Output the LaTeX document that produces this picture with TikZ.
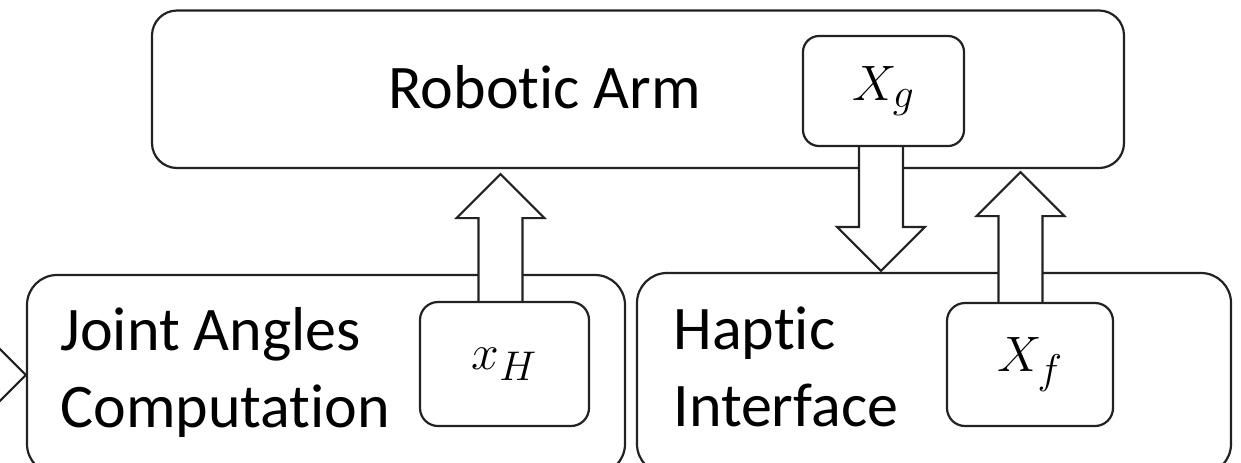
\documentclass[tikz,border=0pt]{standalone}
\usepackage{fontspec}
\setmainfont{Carlito}[Ligatures=NoCommon]
\usetikzlibrary{calc}
\pgfdeclarelayer{boxes}
\pgfdeclarelayer{links}
\pgfsetlayers{boxes,links,main}

\definecolor{ink}{HTML}{222222}

% vertical block arrow from #1 (shaft base) to #2 (tip)
\newcommand\vblockarrow[2]{%
  \path[blockarrow] let \p1=(#1), \p2=(#2),
      \n1={ifthenelse(\y2>\y1,1,-1)}, \n2={\y2-\n1*22pt} in
    (\x1-11pt,\y1) -- (\x1-11pt,\n2) -- (\x1-22pt,\n2) -- (\x1,\y2)
    -- (\x1+22pt,\n2) -- (\x1+11pt,\n2) -- (\x1+11pt,\y1);}
% rightward block arrow from #1 to tip #2
\newcommand\hblockarrow[2]{%
  \path[blockarrow] let \p1=(#1), \p2=(#2), \n2={\x2-22pt} in
    (\x1,\y1+11pt) -- (\n2,\y1+11pt) -- (\n2,\y1+22pt) -- (\x2,\y1)
    -- (\n2,\y1-22pt) -- (\n2,\y1-11pt) -- (\x1,\y1-11pt);}

\begin{document}
\begin{tikzpicture}[x=0.5pt,y=-0.5pt,
    panel/.style={draw=ink, line width=1.1pt, fill=white, inner sep=0pt},
    cell/.style={draw=ink, line width=1.1pt, fill=white, inner sep=0pt,
      font=\fontsize{32pt}{38.5pt}\selectfont},
    caption/.style={inner sep=0pt, anchor=base west, align=left,
      font=\fontsize{31pt}{38.5pt}\selectfont},
    blockarrow/.style={draw=ink, fill=white, line width=1.1pt, line join=miter}]
\path[use as bounding box] (0,0) rectangle (1241,462);

% outer blocks
\begin{pgfonlayer}{boxes}
\node[panel, rounded corners=12.5pt, minimum width=486pt, minimum height=78.75pt]
  (arm) at (638,89.25) {};
\node[panel, rounded corners=15pt, minimum width=299pt, minimum height=99.5pt]
  (jac) at (326,374.5) {};
\node[panel, rounded corners=15pt, minimum width=297pt, minimum height=100.5pt]
  (hi) at (934,373.5) {};
\end{pgfonlayer}

% block titles (base anchor sits on the last line)
\node[caption] (armtext) at (388,108) {Robotic Arm};
\node[caption] (jactext) at (60,427) {Joint Angles\\Computation};
\node[caption] (hitext) at (673,426) {Haptic\\Interface};

% signal cells
\node[cell, rounded corners=8pt, minimum width=80.5pt, minimum height=55pt]
  (xg) at (883.5,91) {$X_g$};
\node[cell, rounded corners=9pt, minimum width=84.5pt, minimum height=62pt]
  (xh) at (504.5,364) {$x_H$};
\node[cell, rounded corners=9pt, minimum width=83pt, minimum height=61.5pt]
  (xf) at (1030,364.5) {$X_f$};

\coordinate (feed) at (-80,375);

% block arrows between cells and blocks
\begin{pgfonlayer}{links}
\vblockarrow{$(xg.south)+(-2.5,0)$}{$(xg.south |- hi.north)+(-2.5,-1)$}
\vblockarrow{$(xh.north)+(-4,0)$}{$(xh.north |- arm.south)+(-4,5)$}
\vblockarrow{$(xf.north)+(-9.5,0)$}{$(xf.north |- arm.south)+(-9.5,3)$}
\hblockarrow{feed}{feed -| jac.west}
\end{pgfonlayer}
\end{tikzpicture}
\end{document}
